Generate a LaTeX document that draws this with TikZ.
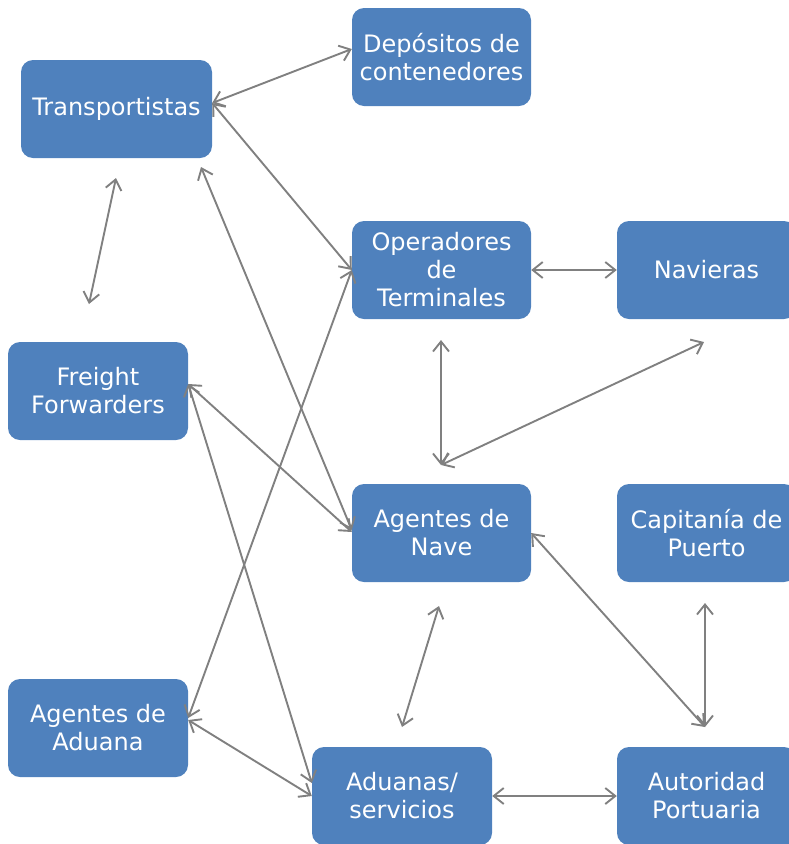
\documentclass[tikz,border=0pt]{standalone}
\usepackage{fontspec}
\setmainfont{DejaVu Sans}
\usetikzlibrary{arrows.meta}
\definecolor{boxblue}{HTML}{4F81BD}
\definecolor{arrgray}{HTML}{808080}
\begin{document}
\begin{tikzpicture}[x=1pt,y=-1pt,
  box/.style={rectangle, rounded corners=12pt, fill=boxblue, text=white,
    minimum height=98pt, inner sep=1pt, align=center,
    font=\fontsize{24}{28}\selectfont},
  link/.style={draw=arrgray, line width=1.9pt,
    {Straight Barb[length=10pt,width=16pt]}-{Straight Barb[length=10pt,width=16pt]}}]
\useasboundingbox (0,0) rectangle (789,844);
\clip (0,0) rectangle (789,844);
\node[box, minimum width=191pt] (trans) at (116.5,109) {Transportistas};
\node[box, minimum width=179pt] (dep) at (441.5,57) {Depósitos de\\contenedores};
\node[box, minimum width=179pt] (oper) at (441.5,270) {Operadores\\de\\Terminales};
\node[box, minimum width=179pt] (nav) at (706.5,270) {Navieras};
\node[box, minimum width=180pt] (ff) at (98,391) {Freight\\Forwarders};
\node[box, minimum width=179pt] (agnave) at (441.5,533) {Agentes de\\Nave};
\node[box, minimum width=179pt] (cap) at (706.5,533) {Capitanía de\\Puerto};
\node[box, minimum width=180pt] (agad) at (98,728) {Agentes de\\Aduana};
\node[box, minimum width=180pt] (adu) at (402,796) {Aduanas/\\servicios};
\node[box, minimum width=179pt] (aut) at (706.5,796) {Autoridad\\Portuaria};

\coordinate (c1) at (116,178);
\coordinate (c2) at (89,304);
\coordinate (c3) at (441,340);
\coordinate (c4) at (441,465);
\coordinate (c5) at (704,342);
\coordinate (c6) at (439,606);
\coordinate (c7) at (402,727);
\coordinate (c8) at (705,727);
\coordinate (c9) at (705,603);
\coordinate (c10) at (201,167);

\draw[link] ([yshift=6pt]trans.east) -- ([yshift=8pt]dep.west);
\draw[link] ([yshift=6pt]trans.east) -- (oper.west);
\draw[link] (c1) -- (c2);
\draw[link] (c10) -- ([yshift=3pt]agnave.west);
\draw[link] (oper.east) -- (nav.west);
\draw[link] (c3) -- (c4);
\draw[link] (c5) -- (c4);
\draw[link] ([yshift=7pt]ff.east) -- ([yshift=1pt]agnave.west);
\draw[link] ([yshift=7pt]ff.east) -- ([yshift=13pt]adu.west);
\draw[link] ([yshift=10pt]agad.east) -- (oper.west);
\draw[link] ([yshift=8pt]agad.east) -- (adu.west);
\draw[link] (c6) -- (c7);
\draw[link] (agnave.east) -- (c8);
\draw[link] (c9) -- (c8);
\draw[link] (adu.east) -- (aut.west);
\end{tikzpicture}
\end{document}
